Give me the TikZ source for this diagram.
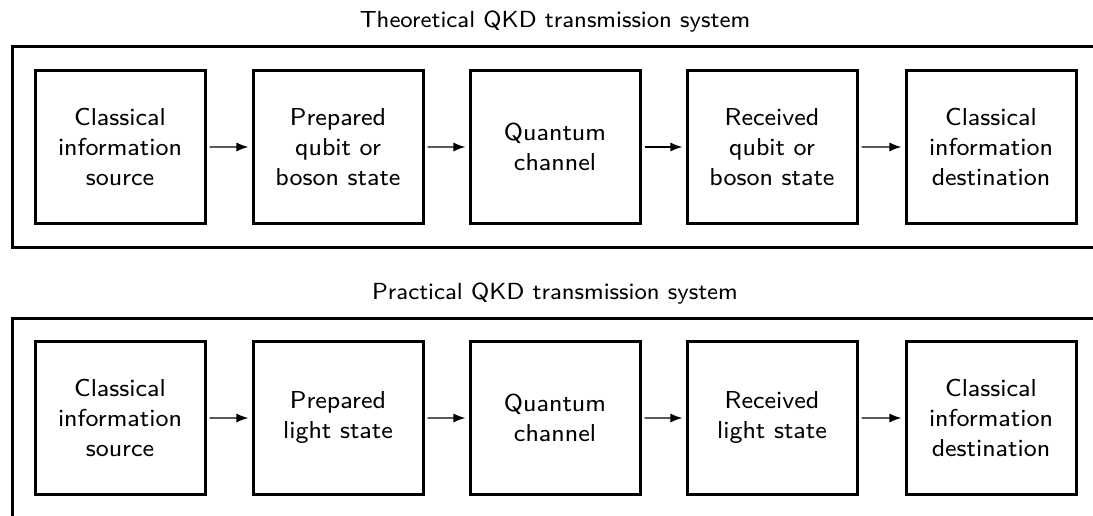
\documentclass[tikz,border=0pt]{standalone}
\usetikzlibrary{arrows.meta}
\renewcommand{\familydefault}{\sfdefault}
\begin{document}
\begin{tikzpicture}[x=1pt,y=-1pt,
  blk/.style={draw,line width=3pt,minimum width=170pt/3.06,minimum height=153pt/3.06,align=center,inner sep=0pt,font=\fontsize{8}{9.8}\selectfont,scale=3.06,transform shape},
  frame/.style={line width=3pt},
  conn/.style={line width=1.3pt,-{Latex[length=12pt,width=9pt]}},
  ttl/.style={font=\fontsize{8}{9.8}\selectfont,scale=2.91,transform shape}]
\useasboundingbox (0,0) rectangle (1093,516);
\node[ttl] (t1) at (555,22) {Theoretical QKD transmission system};
\draw[frame] (1110,47) -- (12,47) -- (12,247) -- (1110,247);
\node[blk] (a1) at (120,147) {Classical\\information\\source};
\node[blk] (a2) at (338,147) {Prepared\\qubit or\\boson state};
\node[blk] (a3) at (555,147) {Quantum\\channel};
\node[blk] (a4) at (772,147) {Received\\qubit or\\boson state};
\node[blk] (a5) at (991,147) {Classical\\information\\destination};
\foreach \i/\j in {a1/a2,a2/a3,a3/a4,a4/a5} \draw[conn] (\i) -- (\j);
\node[ttl] (t2) at (555,294) {Practical QKD transmission system};
\draw[frame] (1110,318) -- (12,318) -- (12,530);
\node[blk] (b1) at (120,418) {Classical\\information\\source};
\node[blk] (b2) at (338,418) {Prepared\\light state};
\node[blk] (b3) at (555,418) {Quantum\\channel};
\node[blk] (b4) at (772,418) {Received\\light state};
\node[blk] (b5) at (991,418) {Classical\\information\\destination};
\foreach \i/\j in {b1/b2,b2/b3,b3/b4,b4/b5} \draw[conn] (\i) -- (\j);
\end{tikzpicture}
\end{document}
